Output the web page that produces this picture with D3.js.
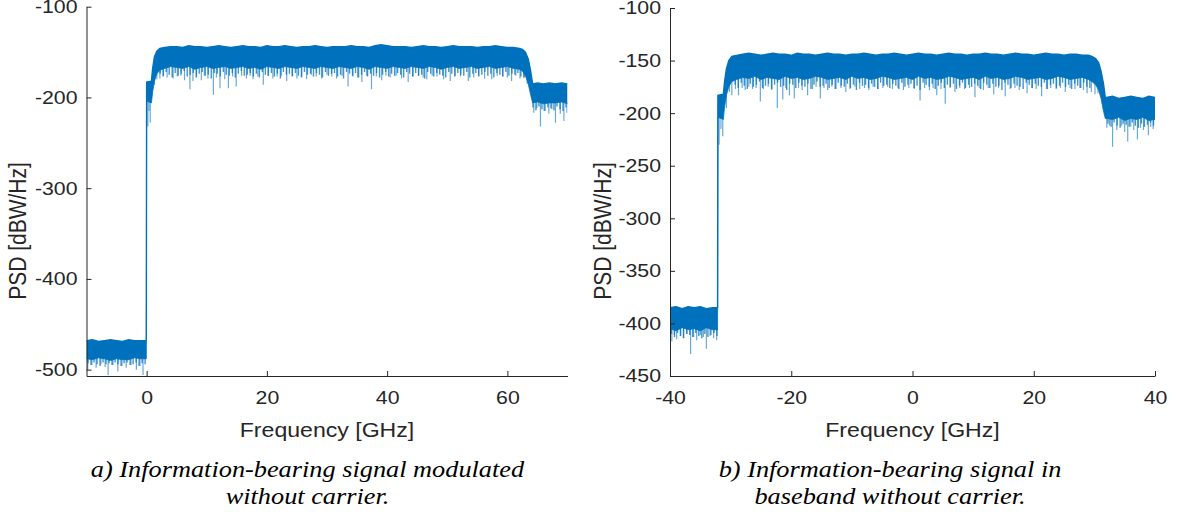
<!DOCTYPE html>
<html>
<head>
<meta charset="utf-8">
<script src="https://cdn.jsdelivr.net/npm/d3@7"></script>
<style>
  html, body { margin: 0; padding: 0; background: #ffffff; }
  svg { display: block; }
</style>
</head>
<body>
<svg id="chart" width="1179" height="521"></svg>
<script>
// ---------- Panel a: modulated signal, frequency in GHz, PSD in dBW/Hz ----------
// Envelope of the dense noise band (upper / lower edge) at sample frequencies
const freqA = [-10, -9, -8, -7, -6, -5, -4, -3, -2, -1, -0.05,
  0, 0.8, 1.0, 1.3, 1.7, 2.2,
  3, 4, 5, 6, 7, 8, 9, 10, 11, 12,
  13, 14, 15, 16, 17, 18, 19, 20, 21, 22,
  23, 24, 25, 26, 27, 28, 29, 30, 31, 32,
  33, 34, 35, 36, 37, 38, 39, 40, 41, 42,
  43, 44, 45, 46, 47, 48, 49, 50, 51, 52,
  53, 54, 55, 56, 57, 58, 59, 60, 61, 62,
  62.5, 63, 63.5, 63.9, 64.2, 65, 66, 67, 68, 69, 70];
const highA = [-468, -467, -469, -468, -467, -468, -469, -467, -468, -468, -468,
  -183, -182, -168, -155, -149, -146,
  -145, -144, -144, -145, -143, -144, -144, -145, -144, -143,
  -144, -145, -144, -143, -144, -144, -145, -143, -144, -144,
  -143, -144, -145, -144, -144, -143, -144, -145, -144, -144,
  -144, -143, -144, -144, -145, -143, -142, -143, -144, -144,
  -144, -145, -144, -143, -144, -144, -145, -144, -143, -144,
  -144, -144, -145, -144, -144, -143, -144, -145, -145, -146,
  -147, -150, -158, -172, -185, -184, -185, -184, -185, -184, -185];
const lowA = [-488, -489, -487, -488, -490, -488, -489, -489, -487, -488, -488,
  -204, -206, -194, -182, -174, -170,
  -168, -166, -167, -168, -166, -169, -167, -166, -168, -167,
  -166, -168, -167, -166, -168, -167, -169, -166, -167, -168,
  -166, -167, -168, -166, -167, -168, -166, -167, -168, -166,
  -167, -168, -166, -167, -169, -166, -167, -168, -166, -167,
  -168, -166, -167, -168, -166, -167, -169, -167, -166, -168,
  -167, -166, -168, -167, -166, -168, -167, -166, -168, -169,
  -171, -176, -186, -198, -206, -205, -207, -206, -206, -205, -207];
// Deep downward dips below the dense band: frequency and dip level
const dipFreqA = [-9.8, -9.1, -8.4, -7.6, -6.9, -6.4, -5.6, -4.8, -4.1, -3.4, -2.6, -1.7, -1.1, -0.6,
  0.2, 0.4, 0.6, 1.3, 1.7, 2.2, 2.8, 3.4, 4.4, 5.1, 5.7, 6.3, 7.2, 7.7, 8.3, 9.1, 9.6,
  10.2, 11.1, 11.6, 12.2, 13, 13.6, 14.3, 14.9, 15.8, 16.6, 17.2, 17.7, 18.5, 19.4, 20.2,
  21, 21.7, 22.4, 23.3, 24.2, 25, 25.8, 26.6, 27.4, 28.2, 29.1, 30, 30.8, 31.6, 32.5,
  33.5, 34.3, 35.1, 35.8, 36.6, 37.4, 38.2, 39.1, 39.8, 40.5, 41.5, 42.4, 43.5, 44.3,
  45.2, 46, 46.6, 47.5, 48.3, 49.4, 50.5, 51.3, 52.2, 53.5, 54.4, 55.2, 56.2, 57.4,
  58.3, 59.2, 60, 60.7, 61.4, 62.1, 62.8, 63.3,
  64.4, 64.9, 65.5, 66.1, 66.9, 67.4, 68, 68.8, 69.4, 69.9];
const dipLevelA = [-500, -495, -498, -494, -497, -506, -495, -502, -496, -498, -495, -500, -496, -506,
  -232, -215, -228, -186, -180, -179, -176, -178, -179, -177, -176, -181, -191, -182, -177, -181, -176,
  -179, -197, -178, -190, -180, -190, -177, -188, -176, -179, -176, -180, -177, -186, -176,
  -179, -177, -176, -182, -176, -179, -177, -180, -175, -177, -179, -175, -177, -179, -176,
  -188, -177, -178, -183, -176, -191, -177, -181, -176, -178, -176, -179, -183, -177,
  -176, -178, -180, -176, -177, -180, -182, -176, -177, -182, -178, -176, -179, -180,
  -176, -177, -178, -182, -176, -179, -178, -185,
  -217, -212, -232, -215, -218, -213, -228, -218, -226, -217];
// Short ragged fringe just under the dense band
const fringeFreqA = [-9.75, -9.25, -8.75, -8.25, -7.75, -7.25, -6.75, -6.25, -5.75, -5.25,
  -4.75, -4.25, -3.75, -3.25, -2.75, -2.25, -1.75, -1.25, -0.75, -0.25,
  2.25, 2.75, 3.25, 3.75, 4.25, 4.75, 5.25, 5.75, 6.25, 6.75,
  7.25, 7.75, 8.25, 8.75, 9.25, 9.75, 10.25, 10.75, 11.25, 11.75,
  12.25, 12.75, 13.25, 13.75, 14.25, 14.75, 15.25, 15.75, 16.25, 16.75,
  17.25, 17.75, 18.25, 18.75, 19.25, 19.75, 20.25, 20.75, 21.25, 21.75,
  22.25, 22.75, 23.25, 23.75, 24.25, 24.75, 25.25, 25.75, 26.25, 26.75,
  27.25, 27.75, 28.25, 28.75, 29.25, 29.75, 30.25, 30.75, 31.25, 31.75,
  32.25, 32.75, 33.25, 33.75, 34.25, 34.75, 35.25, 35.75, 36.25, 36.75,
  37.25, 37.75, 38.25, 38.75, 39.25, 39.75, 40.25, 40.75, 41.25, 41.75,
  42.25, 42.75, 43.25, 43.75, 44.25, 44.75, 45.25, 45.75, 46.25, 46.75,
  47.25, 47.75, 48.25, 48.75, 49.25, 49.75, 50.25, 50.75, 51.25, 51.75,
  52.25, 52.75, 53.25, 53.75, 54.25, 54.75, 55.25, 55.75, 56.25, 56.75,
  57.25, 57.75, 58.25, 58.75, 59.25, 59.75, 60.25, 60.75, 61.25, 61.75,
  62.25, 62.75,
  64.25, 64.75, 65.25, 65.75, 66.25, 66.75, 67.25, 67.75, 68.25, 68.75, 69.25, 69.75];
const fringeLevelA = [-493, -495, -492, -494, -496, -492, -494, -493, -495, -492,
  -494, -496, -493, -492, -495, -494, -492, -496, -493, -494,
  -174, -177, -172, -175, -178, -173, -176, -174, -171, -177,
  -175, -173, -178, -174, -172, -176, -175, -179, -173, -174,
  -177, -172, -175, -176, -173, -178, -174, -171, -176, -175,
  -173, -177, -174, -178, -172, -175, -176, -173, -177, -174,
  -179, -172, -175, -174, -177, -173, -176, -178, -172, -175,
  -174, -177, -173, -175, -178, -172, -176, -174, -173, -177,
  -175, -179, -172, -174, -176, -173, -178, -175, -172, -177,
  -174, -176, -173, -178, -175, -172, -177, -174, -176, -173,
  -175, -178, -172, -174, -177, -173, -176, -175, -179, -172,
  -174, -177, -173, -175, -176, -178, -172, -174, -177, -173,
  -175, -176, -172, -178, -174, -173, -177, -175, -172, -176,
  -174, -178, -173, -175, -177, -172, -176, -174, -175, -173,
  -177, -178,
  -211, -214, -210, -213, -215, -211, -212, -214, -210, -213, -215, -211];
const xTicksA = [0, 20, 40, 60];
const yTicksA = [-500, -400, -300, -200, -100];

// ---------- Panel b: baseband signal ----------
const freqB = [-40, -39, -38, -37, -36, -35, -34, -33, -32.15,
  -32.1, -31.2, -31.0, -30.7, -30.3, -29.8,
  -29, -28, -27, -26, -25, -24, -23, -22, -21, -20,
  -19, -18, -17, -16, -15, -14, -13, -12, -11, -10,
  -9, -8, -7, -6, -5, -4, -3, -2, -1, 0,
  1, 2, 3, 4, 5, 6, 7, 8, 9, 10,
  11, 12, 13, 14, 15, 16, 17, 18, 19, 20,
  21, 22, 23, 24, 25, 26, 27, 28, 29,
  29.6, 30.2, 30.7, 31.1, 31.5, 31.8,
  32, 33, 34, 35, 36, 37, 38, 39, 40];
const highB = [-385, -384, -386, -384, -385, -384, -386, -385, -385,
  -183, -182, -170, -158, -150, -146,
  -145, -144, -143, -144, -145, -144, -143, -144, -144, -145,
  -143, -144, -144, -145, -144, -143, -144, -144, -145, -144,
  -144, -143, -144, -145, -144, -144, -143, -144, -145, -144,
  -143, -144, -144, -145, -144, -143, -144, -144, -145, -144,
  -144, -143, -144, -144, -145, -144, -143, -144, -144, -145,
  -144, -143, -144, -144, -145, -144, -144, -145, -145,
  -146, -148, -152, -160, -172, -185,
  -185, -184, -186, -185, -184, -185, -186, -184, -185];
const lowB = [-405, -407, -404, -406, -405, -407, -404, -406, -406,
  -204, -206, -194, -183, -175, -170,
  -168, -166, -167, -165, -168, -166, -167, -168, -165, -167,
  -166, -168, -167, -165, -166, -168, -167, -166, -168, -165,
  -167, -166, -168, -167, -165, -166, -168, -167, -166, -168,
  -165, -167, -166, -168, -167, -165, -166, -168, -167, -166,
  -168, -165, -167, -166, -168, -167, -165, -166, -168, -167,
  -166, -168, -167, -165, -166, -168, -167, -166, -168,
  -170, -173, -178, -186, -198, -205,
  -205, -206, -204, -207, -205, -206, -204, -207, -206];
const dipFreqB = [-39.7, -39.3, -38.9, -38.3, -37.8, -37.2, -36.6, -36.1, -35.6, -35.0, -34.5, -34.0, -33.4, -32.8, -32.3,
  -31.9, -31.6, -31.3, -30.7, -30.2, -29.8, -29.2, -28.7, -28.1, -27.6, -27.0, -26.4, -25.8,
  -25.1, -24.6, -23.8, -23.2, -22.3, -21.4, -20.9, -20.3, -19.5, -18.8, -18.2, -17.3, -16.5,
  -15.9, -15.2, -14.6, -14, -13.3, -12.6, -11.8, -11, -10.3, -9.5, -8.7, -7.9, -7.2, -6.5,
  -5.7, -4.9, -4.1, -3.3, -2.4, -1.5, -0.6, 0.3, 1.25, 2, 2.8, 3.4, 4, 4.7, 5.4, 6.2, 7,
  7.8, 8.6, 9.4, 10.3, 11, 11.7, 12.5, 13.4, 14.2, 15.3, 16.1, 16.9, 17.6, 18.9, 19.7,
  20.4, 21.3, 22.1, 22.8, 23.7, 24.4, 25.2, 26, 26.8, 27.6, 28.2, 28.8, 29.5, 30.1, 30.6,
  32.05, 32.5, 33, 33.7, 34.5, 35.0, 35.5, 36.0, 36.5, 37.1, 37.6, 38.1, 38.9, 39.3, 39.7];
const dipLevelB = [-417, -411, -415, -412, -414, -410, -429, -413, -416, -411, -413, -424, -412, -414, -416,
  -230, -215, -222, -195, -180, -183, -177, -183, -176, -178, -175, -177, -176,
  -189, -177, -175, -178, -195, -187, -176, -183, -186, -176, -178, -183, -177,
  -175, -186, -176, -178, -175, -177, -176, -180, -177, -175, -177, -176, -178, -175,
  -177, -176, -175, -177, -176, -178, -176, -177, -188, -176, -178, -176, -183, -177, -191, -176, -180,
  -176, -177, -176, -185, -176, -178, -176, -182, -176, -184, -177, -176, -178, -181, -176,
  -177, -184, -177, -176, -177, -176, -180, -176, -177, -176, -178, -181, -180, -182, -181,
  -214, -212, -232, -216, -212, -218, -227, -213, -216, -225, -214, -216, -221, -213, -215];
const fringeFreqB = [-39.75, -39.25, -38.75, -38.25, -37.75, -37.25, -36.75, -36.25,
  -35.75, -35.25, -34.75, -34.25, -33.75, -33.25, -32.75, -32.25,
  -29.25, -28.75, -28.25, -27.75, -27.25, -26.75, -26.25, -25.75, -25.25, -24.75,
  -24.25, -23.75, -23.25, -22.75, -22.25, -21.75, -21.25, -20.75, -20.25, -19.75,
  -19.25, -18.75, -18.25, -17.75, -17.25, -16.75, -16.25, -15.75, -15.25, -14.75,
  -14.25, -13.75, -13.25, -12.75, -12.25, -11.75, -11.25, -10.75, -10.25, -9.75,
  -9.25, -8.75, -8.25, -7.75, -7.25, -6.75, -6.25, -5.75, -5.25, -4.75,
  -4.25, -3.75, -3.25, -2.75, -2.25, -1.75, -1.25, -0.75, -0.25, 0.25,
  0.75, 1.25, 1.75, 2.25, 2.75, 3.25, 3.75, 4.25, 4.75, 5.25,
  5.75, 6.25, 6.75, 7.25, 7.75, 8.25, 8.75, 9.25, 9.75, 10.25,
  10.75, 11.25, 11.75, 12.25, 12.75, 13.25, 13.75, 14.25, 14.75, 15.25,
  15.75, 16.25, 16.75, 17.25, 17.75, 18.25, 18.75, 19.25, 19.75, 20.25,
  20.75, 21.25, 21.75, 22.25, 22.75, 23.25, 23.75, 24.25, 24.75, 25.25,
  25.75, 26.25, 26.75, 27.25, 27.75, 28.25, 28.75, 29.25,
  32.25, 32.75, 33.25, 33.75, 34.25, 34.75, 35.25, 35.75,
  36.25, 36.75, 37.25, 37.75, 38.25, 38.75, 39.25, 39.75];
const fringeLevelB = [-410, -413, -409, -412, -414, -410, -411, -413,
  -409, -412, -414, -410, -413, -411, -409, -412,
  -173, -176, -171, -174, -177, -172, -175, -173, -170, -176,
  -174, -172, -177, -173, -171, -175, -174, -178, -172, -173,
  -176, -171, -174, -175, -172, -177, -173, -170, -175, -174,
  -172, -176, -173, -177, -171, -174, -175, -172, -176, -173,
  -178, -171, -174, -173, -176, -172, -175, -177, -171, -174,
  -173, -176, -172, -174, -177, -171, -175, -173, -172, -176,
  -174, -178, -171, -173, -175, -172, -177, -174, -171, -176,
  -173, -175, -172, -177, -174, -171, -176, -173, -175, -172,
  -174, -177, -171, -173, -176, -172, -175, -174, -178, -171,
  -173, -176, -172, -174, -175, -177, -171, -173, -176, -172,
  -174, -175, -171, -177, -173, -172, -176, -174, -171, -175,
  -173, -177, -172, -174, -176, -171, -175, -176,
  -210, -213, -209, -212, -214, -210, -211, -213,
  -209, -212, -214, -210, -213, -211, -209, -212];
const xTicksB = [-40, -20, 0, 20, 40];
const yTicksB = [-450, -400, -350, -300, -250, -200, -150, -100];

const captionA = ["a) Information-bearing signal modulated", "without carrier."];
const captionB = ["b) Information-bearing signal in", "baseband without carrier."];

// ---------- drawing ----------
const LINE = "#0072BD";
const AXIS = "#262626";
const SANS = "'Liberation Sans', Arial, sans-serif";
const SERIF = "'Liberation Serif', 'Times New Roman', serif";
const svg = d3.select("#chart");
svg.append("rect").attr("width", 1179).attr("height", 521).attr("fill", "#ffffff");

function drawPanel(p) {
  const x = d3.scaleLinear().domain(p.xDomain).range(p.xRange);
  const y = d3.scaleLinear().domain(p.yDomain).range(p.yRange);
  const g = svg.append("g");

  const band = p.freq.map((f, i) => ({ f, hi: p.high[i], lo: p.low[i] }));

  // clip to the axes box
  const clipId = "clip-" + p.id;
  g.append("clipPath").attr("id", clipId).append("rect")
    .attr("x", p.xRange[0]).attr("y", p.yRange[1])
    .attr("width", p.xRange[1] - p.xRange[0]).attr("height", p.yRange[0] - p.yRange[1]);
  const plot = g.append("g").attr("clip-path", `url(#${clipId})`);

  // lower edge of the band at any frequency
  const bis = d3.bisector(d => d.f).left;
  const lowAt = f => {
    const i = bis(band, f);
    if (i <= 0) return band[0].lo;
    if (i >= band.length) return band[band.length - 1].lo;
    const a = band[i - 1], b = band[i];
    const t = (f - a.f) / (b.f - a.f);
    return a.lo + t * (b.lo - a.lo);
  };

  const drawDips = (freqs, levels, width, opacity) => {
    const data = freqs.map((f, i) => ({ f, v: levels[i] }));
    plot.append("g").selectAll("line").data(data).join("line")
      .attr("x1", d => x(d.f)).attr("x2", d => x(d.f))
      .attr("y1", d => y(lowAt(d.f)) - 2).attr("y2", d => y(d.v))
      .attr("stroke", LINE).attr("stroke-width", width).attr("stroke-opacity", opacity);
  };
  drawDips(p.fringeFreq, p.fringeLevel, 1.4, 0.75);
  drawDips(p.dipFreq, p.dipLevel, 1.2, 0.6);

  // dense band of the spectrum
  plot.append("path").datum(band)
    .attr("d", d3.area().x(d => x(d.f)).y0(d => y(d.lo)).y1(d => y(d.hi)))
    .attr("fill", LINE);
  plot.append("path").datum(band)
    .attr("d", d3.line().x(d => x(d.f)).y(d => y(d.hi)))
    .attr("fill", "none").attr("stroke", LINE).attr("stroke-width", 1.4);
  plot.append("path").datum(band)
    .attr("d", d3.line().x(d => x(d.f)).y(d => y(d.lo)))
    .attr("fill", "none").attr("stroke", LINE).attr("stroke-width", 1).attr("stroke-opacity", 0.8);

  // axes (ticks pointing inward, no box)
  const fmt = d => String(d);
  const ax = g.append("g").attr("transform", `translate(0,${p.yRange[0]})`)
    .call(d3.axisBottom(x).tickValues(p.xTicks).tickFormat(fmt)
      .tickSizeInner(-5).tickSizeOuter(0).tickPadding(15));
  const ay = g.append("g").attr("transform", `translate(${p.xRange[0]},0)`)
    .call(d3.axisLeft(y).tickValues(p.yTicks).tickFormat(fmt)
      .tickSizeInner(-5).tickSizeOuter(0).tickPadding(9));
  [ax, ay].forEach(a => {
    a.select(".domain").attr("stroke", AXIS).attr("stroke-width", 1);
    a.selectAll(".tick line").attr("stroke", AXIS).attr("stroke-width", 1);
    a.selectAll(".tick text").attr("fill", AXIS)
      .style("font-family", SANS).style("font-size", "18.5px");
  });
  // glyphs are set slightly wide
  ax.selectAll(".tick text").attr("transform", "scale(1.15,1)");
  ay.selectAll(".tick text").attr("x", 0).attr("transform", "translate(-9,0) scale(1.15,1)");

  // axis titles
  g.append("text").text("Frequency [GHz]")
    .attr("transform", `translate(${(p.xRange[0] + p.xRange[1]) / 2},437) scale(1.1,1)`)
    .attr("text-anchor", "middle").attr("fill", AXIS)
    .style("font-family", SANS).style("font-size", "21px");
  g.append("text").text("PSD [dBW/Hz]")
    .attr("transform", `translate(${p.yLabelX},231) rotate(-90) scale(1,1.1)`)
    .attr("text-anchor", "middle").attr("fill", AXIS)
    .style("font-family", SANS).style("font-size", "21px");

  // caption
  g.append("g").selectAll("text").data(p.caption).join("text")
    .text(d => d)
    .attr("transform", (d, i) => `translate(${p.captionX},${476.5 + i * 27}) scale(1.17,1)`)
    .attr("text-anchor", "middle").attr("fill", "#000")
    .style("font-family", SERIF)
    .style("font-style", "italic").style("font-size", "22.5px");
}

drawPanel({
  id: "a", xDomain: [-10, 70], xRange: [86.5, 567.5], yDomain: [-507, -100], yRange: [376, 6.7],
  freq: freqA, high: highA, low: lowA, dipFreq: dipFreqA, dipLevel: dipLevelA,
  fringeFreq: fringeFreqA, fringeLevel: fringeLevelA,
  xTicks: xTicksA, yTicks: yTicksA, yLabelX: 26, caption: captionA, captionX: 307.5
});
drawPanel({
  id: "b", xDomain: [-40, 40], xRange: [670, 1155], yDomain: [-450, -100], yRange: [376, 8],
  freq: freqB, high: highB, low: lowB, dipFreq: dipFreqB, dipLevel: dipLevelB,
  fringeFreq: fringeFreqB, fringeLevel: fringeLevelB,
  xTicks: xTicksB, yTicks: yTicksB, yLabelX: 611, caption: captionB, captionX: 890
});
</script>
</body>
</html>
